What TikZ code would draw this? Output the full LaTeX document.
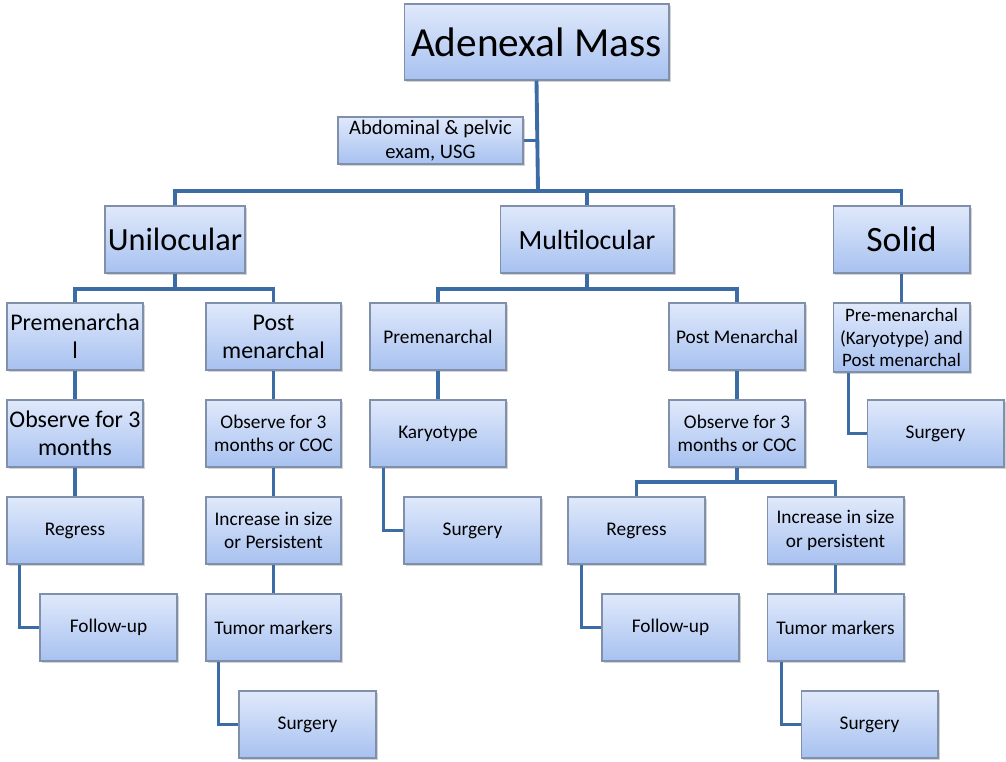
\documentclass[tikz,border=0pt]{standalone}
\usepackage{fontspec}
\setmainfont{Carlito}
\usetikzlibrary{shadows}

\definecolor{boxtop}{HTML}{E0E9FB}
\definecolor{boxbot}{HTML}{A7C1F0}
\definecolor{boxline}{HTML}{8090AA}
\definecolor{linkblue}{HTML}{3C6CA5}

\tikzset{
  box/.style={draw=boxline, line width=0.6pt, top color=boxtop, bottom color=boxbot,
    align=center, inner sep=1pt, text=black,
    drop shadow={shadow xshift=1.2pt, shadow yshift=-1.2pt, opacity=0.35}},
  small/.style={font=\fontsize{11}{13.4}\selectfont},
  medium/.style={font=\fontsize{13.6}{16}\selectfont},
  link/.style={draw=linkblue, line width=2.2pt},
}

\begin{document}
\begin{tikzpicture}[x=0.02cm, y=-0.02cm]

    \useasboundingbox (0,0) rectangle (1006,761);

    % top
    \node[box, minimum width=5.3cm, minimum height=1.52cm, font=\fontsize{23.5}{27}\selectfont] (mass) at (536.5,42) {Adenexal Mass};
    \node[box, minimum width=3.7cm, minimum height=0.94cm, font=\fontsize{11.7}{13.6}\selectfont] (exam) at (430.5,140.5) {Abdominal \& pelvic\\exam, USG};

    % level one
    \node[box, minimum width=2.8cm, minimum height=1.34cm, font=\fontsize{18.4}{21}\selectfont] (uni) at (175,239.5) {Unilocular};
    \node[box, minimum width=3.48cm, minimum height=1.34cm, font=\fontsize{15.8}{19}\selectfont] (multi) at (587,239.5) {Multilocular};
    \node[box, minimum width=2.74cm, minimum height=1.34cm, font=\fontsize{20.3}{23}\selectfont] (solid) at (901.5,239.5) {Solid};

    % unilocular
    \node[box, medium, minimum width=2.72cm, minimum height=1.34cm] (upre) at (75,336.5) {Premenarcha\\l};
    \node[box, medium, minimum width=2.7cm, minimum height=1.34cm] (upost) at (273.5,336.5) {Post\\menarchal};
    \node[box, medium, minimum width=2.72cm, minimum height=1.34cm] (uobs) at (75,433.5) {Observe for 3\\months};
    \node[box, small, minimum width=2.7cm, minimum height=1.34cm] (uobc) at (273.5,433.5) {Observe for 3\\months or COC};
    \node[box, small, minimum width=2.72cm, minimum height=1.34cm] (ureg) at (75,530.5) {Regress};
    \node[box, small, minimum width=2.7cm, minimum height=1.34cm] (uinc) at (273.5,530.5) {Increase in size\\or Persistent};
    \node[box, small, minimum width=2.74cm, minimum height=1.34cm] (ufol) at (108.5,627.5) {Follow-up};
    \node[box, small, minimum width=2.7cm, minimum height=1.34cm] (utum) at (273.5,627.5) {Tumor markers};
    \node[box, small, minimum width=2.74cm, minimum height=1.34cm] (usur) at (307.5,724.5) {Surgery};

    % multilocular
    \node[box, small, minimum width=2.72cm, minimum height=1.34cm] (mpre) at (438,336.5) {Premenarchal};
    \node[box, small, minimum width=2.72cm, minimum height=1.34cm] (mpost) at (737,336.5) {Post Menarchal};
    \node[box, small, minimum width=2.72cm, minimum height=1.34cm] (mkar) at (438,433.5) {Karyotype};
    \node[box, small, minimum width=2.74cm, minimum height=1.34cm] (msur) at (472.5,530.5) {Surgery};
    \node[box, small, minimum width=2.72cm, minimum height=1.34cm] (mobc) at (737,433.5) {Observe for 3\\months or COC};
    \node[box, small, minimum width=2.74cm, minimum height=1.34cm] (mreg) at (636.5,530.5) {Regress};
    \node[box, small, minimum width=2.74cm, minimum height=1.34cm] (minc) at (835.5,530.5) {Increase in size\\or persistent};
    \node[box, small, minimum width=2.74cm, minimum height=1.34cm] (mfol) at (670.5,627.5) {Follow-up};
    \node[box, small, minimum width=2.74cm, minimum height=1.34cm] (mtum) at (835.5,627.5) {Tumor markers};
    \node[box, small, minimum width=2.74cm, minimum height=1.34cm] (msur2) at (869.5,724.5) {Surgery};

    % solid
    \node[box, minimum width=2.74cm, minimum height=1.38cm, font=\fontsize{10.8}{13}\selectfont] (spre) at (901.5,337.5) {Pre-menarchal\\(Karyotype) and\\Post menarchal};
    \node[box, small, minimum width=2.74cm, minimum height=1.34cm] (ssur) at (935.5,433.5) {Surgery};

    % branch points
    \coordinate (hub) at (538,191);
    \coordinate (ubar) at (175,289);
    \coordinate (mbar) at (587,289);
    \coordinate (obar) at (737,482);

    % connectors
    \draw[link] (mass.south) -- (hub);
    \draw[link] (exam.east) -- (exam.east -| hub);
    \draw[link] (uni.north) |- (hub) -| (solid.north);
    \draw[link] (hub) -| (multi.north);

    \draw[link] (uni.south) -- (ubar);
    \draw[link] (upre.north) |- (ubar) -| (upost.north);
    \draw[link] (upre) -- (uobs);
    \draw[link] (uobs) -- (ureg);
    \draw[link] (upost) -- (uobc);
    \draw[link] (uobc) -- (uinc);
    \draw[link] (uinc) -- (utum);
    \draw[link] ([xshift=0.26cm]ureg.south west) |- (ufol.west);
    \draw[link] ([xshift=0.26cm]utum.south west) |- (usur.west);

    \draw[link] (multi.south) -- (mbar);
    \draw[link] (mpre.north) |- (mbar) -| (mpost.north);
    \draw[link] (mpre) -- (mkar);
    \draw[link] ([xshift=0.28cm]mkar.south west) |- (msur.west);
    \draw[link] (mpost) -- (mobc);
    \draw[link] (mobc.south) -- (obar);
    \draw[link] (mreg.north) |- (obar) -| (minc.north);
    \draw[link] ([xshift=0.28cm]mreg.south west) |- (mfol.west);
    \draw[link] (minc) -- (mtum);
    \draw[link] ([xshift=0.3cm]mtum.south west) |- (msur2.west);

    \draw[link] (solid) -- (spre);
    \draw[link] ([xshift=0.32cm]spre.south west) |- (ssur.west);

\end{tikzpicture}
\end{document}
